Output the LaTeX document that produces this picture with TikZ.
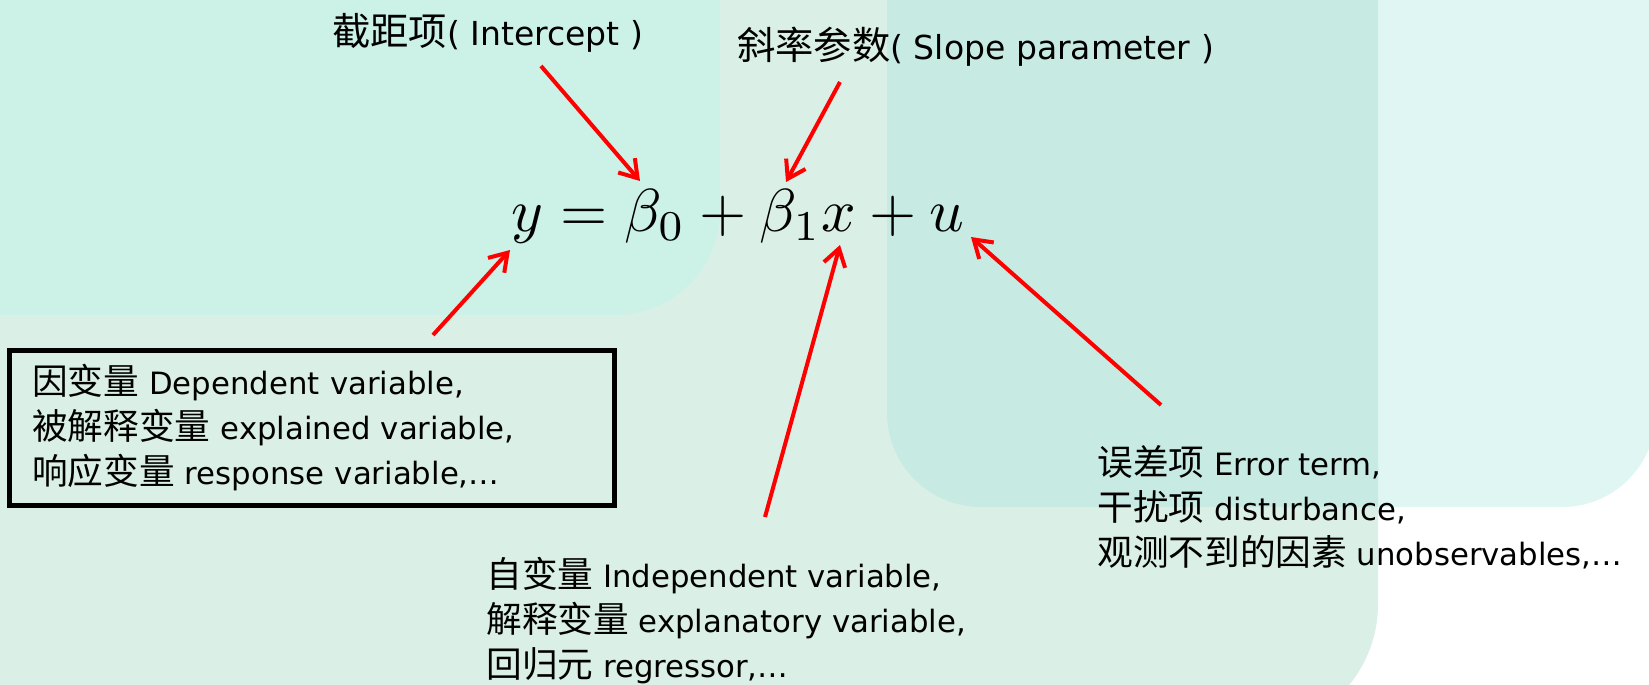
\documentclass[tikz,border=0pt]{standalone}
\usepackage[no-math]{fontspec}
\setmainfont{DejaVu Sans}
\newfontfamily\zhfont{Noto Sans CJK SC}[Scale=1.16]
\newcommand{\zh}[1]{{\zhfont #1}}
\usetikzlibrary{arrows.meta,positioning}
\definecolor{fondA}{RGB}{204,241,230}
\definecolor{fondB}{RGB}{218,240,230}
\definecolor{fondC}{RGB}{165,228,222}
\definecolor{rouge}{RGB}{255,0,0}
\tikzset{
  lbl/.style={anchor=west, inner sep=0pt, align=left, font=\fontsize{17.5}{25.6}\selectfont},
  lbltop/.style={anchor=west, inner sep=0pt, font=\fontsize{18.8}{24}\selectfont},
  cadre/.style={rectangle, draw=black, line width=0.1cm, align=left, text width=11.2cm,
                inner xsep=0.45cm, minimum width=12.1cm, minimum height=3.1cm,
                font=\fontsize{17.5}{25.6}\selectfont},
  arr/.style={-{Straight Barb[length=3.4mm,width=4.4mm]}, line width=0.08cm, draw=rouge},
}

\begin{document}
\begin{tikzpicture}[x=0.02cm, y=-0.02cm]
  \useasboundingbox (0,0) rectangle (1649,684);
  % fonds
  \fill[fondB, rounded corners=2.56cm] (-300,-300) rectangle (1378,732);
  \fill[fondA, rounded corners=2.1cm] (-300,-300) rectangle (720,315);
  \fill[fondC, fill opacity=0.35, rounded corners=1.88cm] (887,-300) rectangle (1656,507);

  \node[anchor=base west, inner sep=0pt] (eq) at (511,231) {\scalebox{3.45}{$y=\beta_0+\beta_1x+u$}};

  \node[lbltop] (icpt) at (332,33) {\zh{截距项}( Intercept )};
  \node[lbltop] (slope) at (737,47) {\zh{斜率参数}( Slope parameter )};
  \node[cadre] (dep) at (312,428) {\zh{因变量} Dependent variable,\\\zh{被解释变量} explained variable,\\\zh{响应变量} response variable,…};
  \node[lbl] (indep) at (486,621) {\zh{自变量} Independent variable,\\\zh{解释变量} explanatory variable,\\\zh{回归元} regressor,…};
  \node[lbl] (err) at (1097,507) {\zh{误差项} Error term,\\\zh{干扰项} disturbance,\\\zh{观测不到的因素} unobservables,…};

  \coordinate (b0) at (640,181); \coordinate (b1) at (786,182);
  \coordinate (yv) at (510,250); \coordinate (xv) at (840,245); \coordinate (uv) at (971,237);
  \coordinate (icptT) at (541,66); \coordinate (slopeT) at (840,82);
  \coordinate (depT) at (433,335); \coordinate (indepT) at (765,517); \coordinate (errT) at (1161,405);

  \draw[arr](icptT)--(b0); \draw[arr](slopeT)--(b1);
  \draw[arr](depT)--(yv); \draw[arr](indepT)--(xv); \draw[arr](errT)--(uv);
\end{tikzpicture}
\end{document}
